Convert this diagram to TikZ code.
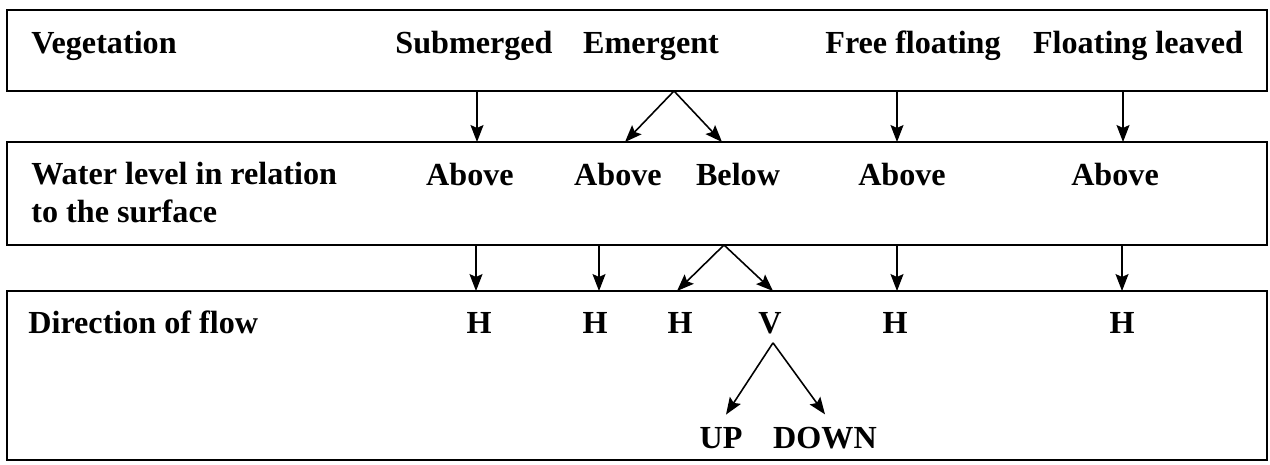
\documentclass[tikz,border=0pt]{standalone}
\usepackage{fontspec}
\setmainfont{Liberation Serif}
\usetikzlibrary{arrows.meta}

\tikzset{
  box/.style={draw, line width=0.04cm, minimum width=25.2cm, inner sep=0pt, outer sep=0pt},
  lbl/.style={anchor=base, inner sep=0pt},
  arr/.style={-{Stealth[length=0.34cm, width=0.26cm, inset=0.06cm]}, line width=0.9pt}
}

\begin{document}
\begin{tikzpicture}[x=0.02cm, y=-0.02cm, font=\fontsize{18.3}{21.3}\selectfont\bfseries]
            \useasboundingbox (0,0) rectangle (1270,464);

            % Boxes
            \node[box, minimum height=1.62cm] (veg) at (637,50.5) {};
            \node[box, minimum height=2.06cm] (wat) at (637,193.5) {};
            \node[box, minimum height=3.38cm] (dir) at (637,375.5) {};

            % Vegetation
            \node[lbl, anchor=base west] (veglbl) at (31,53) {Vegetation};
            \node[lbl] (subm) at (474,53) {Submerged};
            \node[lbl] (emer) at (651,53) {Emergent};
            \node[lbl] (free) at (913,53) {Free floating};
            \node[lbl] (leav) at (1138,53) {Floating leaved};

            % Water level
            \node[lbl, anchor=base west, align=left] (watlbl) at (31,222) {Water level in relation\\to the surface};
            \node[lbl] (abA) at (470,185) {Above};
            \node[lbl] (abB) at (618,185) {Above};
            \node[lbl] (bel) at (738,185) {Below};
            \node[lbl] (abC) at (902,185) {Above};
            \node[lbl] (abD) at (1115,185) {Above};

            % Direction of flow
            \node[lbl, anchor=base west] (dirlbl) at (28,333) {Direction of flow};
            \node[lbl] (hA) at (479,333) {H};
            \node[lbl] (hB) at (595,333) {H};
            \node[lbl] (hC) at (680,333) {H};
            \node[lbl] (vv) at (770,333) {V};
            \node[lbl] (hD) at (895,333) {H};
            \node[lbl] (hE) at (1122,333) {H};
            \node[lbl] (up) at (721,448) {UP};
            \node[lbl] (down) at (825,448) {DOWN};

            % Arrows vegetation -> water level
            \draw[arr] (veg.south -| 477,0) -- (wat.north -| 477,0);
            \draw[arr] (veg.south -| 674,0) -- (wat.north -| 625,0);
            \draw[arr] (veg.south -| 674,0) -- (wat.north -| 722,0);
            \draw[arr] (veg.south -| 897,0) -- (wat.north -| 897,0);
            \draw[arr] (veg.south -| 1123,0) -- (wat.north -| 1123,0);

            % Arrows water level -> direction of flow
            \draw[arr] (wat.south -| 476,0) -- (dir.north -| 476,0);
            \draw[arr] (wat.south -| 599,0) -- (dir.north -| 599,0);
            \draw[arr] (wat.south -| 724,0) -- (dir.north -| 677,0);
            \draw[arr] (wat.south -| 724,0) -- (dir.north -| 773,0);
            \draw[arr] (wat.south -| 897,0) -- (dir.north -| 897,0);
            \draw[arr] (wat.south -| 1122,0) -- (dir.north -| 1122,0);

            % V splits
            \draw[arr] ([xshift=0.06cm, yshift=-0.18cm]vv.south) -- ([xshift=0.1cm, yshift=0.24cm]up.north);
            \draw[arr] ([xshift=0.06cm, yshift=-0.18cm]vv.south) -- ([yshift=0.24cm]down.north);
\end{tikzpicture}
\end{document}
